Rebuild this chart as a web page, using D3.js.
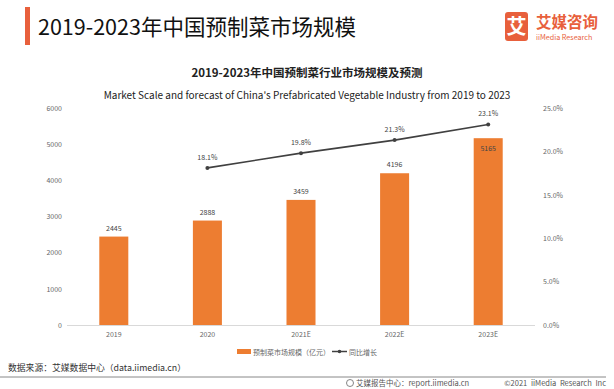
<!DOCTYPE html>
<html><head><meta charset="utf-8">
<script src="https://cdn.jsdelivr.net/npm/d3@7"></script>
<style>body{margin:0;background:#fff}svg{display:block}</style>
</head><body>
<script>
const categories = ["2019","2020","2021E","2022E","2023E"];
const marketScale = [2445,2888,3459,4196,5165];
const growth = [null,18.1,19.8,21.3,23.1];
const leftTicks = [0,1000,2000,3000,4000,5000,6000];
const rightTicks = [0,5,10,15,20,25];

const W=614,H=389;
const svg=d3.select("body").append("svg").attr("width",W).attr("height",H);
const font="'Noto Sans CJK SC','Noto Sans',sans-serif";
svg.append("rect").attr("width",W).attr("height",H).attr("fill","#fff");

// header
svg.append("rect").attr("x",25).attr("y",7).attr("width",5).attr("height",38).attr("fill","#E8603C");
svg.append("text").attr("x",38).attr("y",35).attr("font-family",font).attr("font-size",21.5).attr("font-weight",400).attr("fill","#111").text("2019-2023年中国预制菜市场规模");
svg.append("rect").attr("x",505).attr("y",12).attr("width",23).attr("height",29).attr("rx",3).attr("fill","#E8603C");
svg.append("text").attr("x",516.5).attr("y",34).attr("text-anchor","middle").attr("font-family",font).attr("font-size",20).attr("font-weight",700).attr("fill","#fff").text("艾");
svg.append("text").attr("x",536).attr("y",28).attr("font-family",font).attr("font-size",15.5).attr("font-weight",700).attr("fill","#E8603C").text("艾媒咨询");
svg.append("text").attr("x",536).attr("y",40).attr("font-family",font).attr("font-size",7.2).attr("fill","#E8603C").text("iiMedia Research");

// subtitles
svg.append("text").attr("x",307).attr("y",77).attr("text-anchor","middle").attr("font-family",font).attr("font-size",11.5).attr("font-weight",700).attr("fill","#222").text("2019-2023年中国预制菜行业市场规模及预测");
svg.append("text").attr("x",307).attr("y",99).attr("text-anchor","middle").attr("font-family",font).attr("font-size",10).attr("fill","#222").text("Market Scale and forecast of China's Prefabricated Vegetable Industry from 2019 to 2023");

const x=d3.scaleBand().domain(categories).range([67,535]).paddingInner(0.69).paddingOuter(0.345);
const y=d3.scaleLinear().domain([0,6000]).range([325,108]);
const y2=d3.scaleLinear().domain([0,25]).range([325,108]);

const la=svg.append("g").attr("transform","translate(62,0)").call(d3.axisLeft(y).tickValues(leftTicks).tickSize(0).tickPadding(0).tickFormat(d3.format("d")));
la.select(".domain").remove();
la.selectAll("text").attr("font-family",font).attr("font-size",7).attr("fill","#666");
const ra=svg.append("g").attr("transform","translate(543,0)").call(d3.axisRight(y2).tickValues(rightTicks).tickSize(0).tickPadding(0).tickFormat(d=>d.toFixed(1)+"%"));
ra.select(".domain").remove();
ra.selectAll("text").attr("font-family",font).attr("font-size",7).attr("fill","#666");

svg.append("line").attr("x1",67).attr("x2",535).attr("y1",325.5).attr("y2",325.5).attr("stroke","#d9d9d9");
const xa=svg.append("g").attr("transform","translate(0,326)").call(d3.axisBottom(x).tickSize(0).tickPadding(6));
xa.select(".domain").remove();
xa.selectAll("text").attr("font-family",font).attr("font-size",7).attr("fill","#666");

const data=categories.map((c,i)=>({c,v:marketScale[i],g:growth[i]}));
svg.selectAll(".bar").data(data).enter().append("rect")
 .attr("x",d=>x(d.c)).attr("width",x.bandwidth()).attr("y",d=>y(d.v)).attr("height",d=>325-y(d.v)).attr("fill","#ED7D31");
svg.selectAll(".bl").data(data).enter().append("text")
 .attr("x",d=>x(d.c)+x.bandwidth()/2)
 .attr("y",(d,i)=>i===data.length-1?y(d.v)+13:y(d.v)-6)
 .attr("text-anchor","middle").attr("font-family",font).attr("font-size",7).attr("fill","#444").text(d=>d.v);

const ld=data.filter(d=>d.g!=null);
const line=d3.line().x(d=>x(d.c)+x.bandwidth()/2).y(d=>y2(d.g));
svg.append("path").datum(ld).attr("d",line).attr("fill","none").attr("stroke","#404040").attr("stroke-width",1.6);
svg.selectAll(".pt").data(ld).enter().append("circle").attr("cx",d=>x(d.c)+x.bandwidth()/2).attr("cy",d=>y2(d.g)).attr("r",2).attr("fill","#404040");
svg.selectAll(".pl").data(ld).enter().append("text").attr("x",d=>x(d.c)+x.bandwidth()/2).attr("y",d=>y2(d.g)-8)
 .attr("text-anchor","middle").attr("font-family",font).attr("font-size",7).attr("fill","#444").text(d=>d.g.toFixed(1)+"%");

// legend
svg.append("rect").attr("x",237).attr("y",349).attr("width",14).attr("height",5).attr("fill","#ED7D31");
svg.append("text").attr("x",253).attr("y",354.5).attr("font-family",font).attr("font-size",7).attr("fill","#666").text("预制菜市场规模（亿元）");
svg.append("line").attr("x1",332).attr("x2",347).attr("y1",351.5).attr("y2",351.5).attr("stroke","#404040").attr("stroke-width",1.5);
svg.append("circle").attr("cx",339.5).attr("cy",351.5).attr("r",1.8).attr("fill","#404040");
svg.append("text").attr("x",349).attr("y",354.5).attr("font-family",font).attr("font-size",7).attr("fill","#666").text("同比增长");

// footer
svg.append("text").attr("x",8).attr("y",371).attr("font-family",font).attr("font-size",8.8).attr("fill","#333").text("数据来源：艾媒数据中心（data.iimedia.cn）");
svg.append("line").attr("x1",0).attr("x2",606).attr("y1",377).attr("y2",377).attr("stroke","#888").attr("stroke-width",1);
svg.append("circle").attr("cx",350).attr("cy",383).attr("r",3.5).attr("fill","none").attr("stroke","#777").attr("stroke-width",0.9);
svg.append("text").attr("x",356).attr("y",386).attr("font-family",font).attr("font-size",7.5).attr("fill","#555").text("艾媒报告中心：report.iimedia.cn");
svg.append("text").attr("x",606).attr("y",386).attr("text-anchor","end").attr("font-family",font).attr("font-size",7.5).attr("fill","#555").attr("word-spacing",2).text("©2021 iiMedia Research Inc");
</script>
</body></html>
